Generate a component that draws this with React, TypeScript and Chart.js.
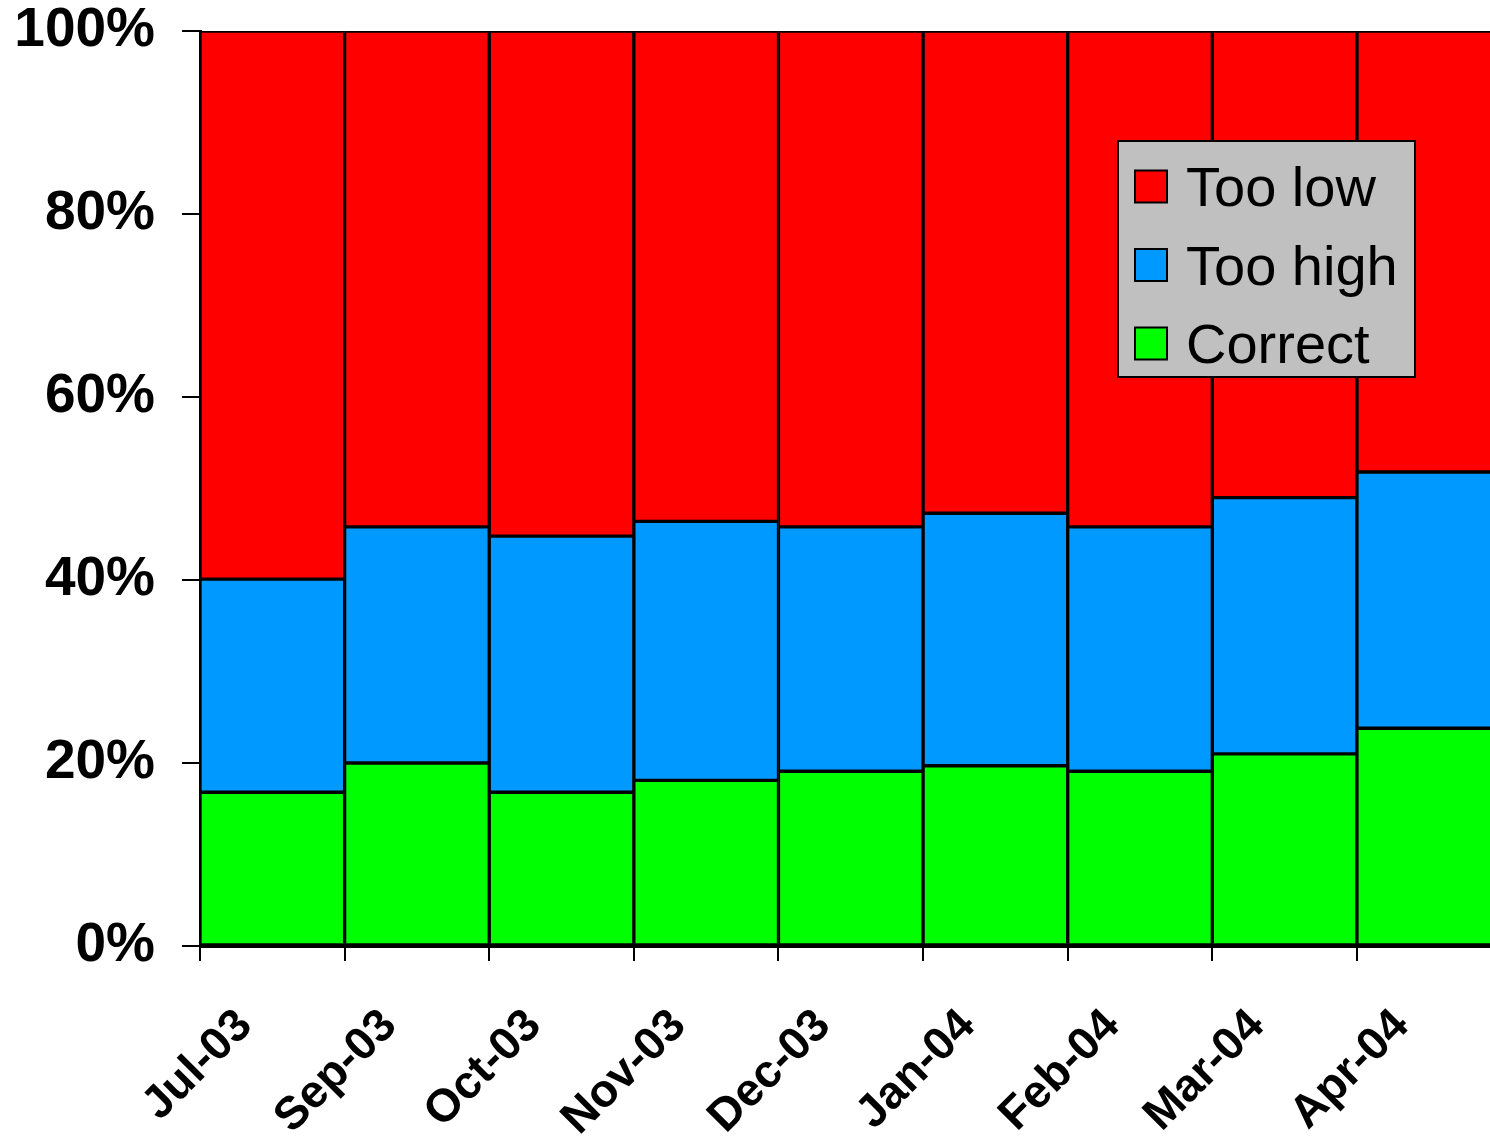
import React, { useEffect, useRef } from "react";
import { Chart, registerables } from "chart.js";

Chart.register(...registerables);

const categories = ["Jul-03", "Sep-03", "Oct-03", "Nov-03", "Dec-03", "Jan-04", "Feb-04", "Mar-04", "Apr-04"];
const correct = [16.8, 20.0, 16.8, 18.1, 19.1, 19.7, 19.1, 21.0, 23.8];
const tooHigh = [23.3, 25.8, 28.0, 28.3, 26.7, 27.6, 26.7, 28.0, 28.0];
const tooLow = correct.map((c, i) => +(100 - c - tooHigh[i]).toFixed(1));
const yTicks = [0, 20, 40, 60, 80, 100];
const seriesNames = ["Correct", "Too high", "Too low"];
const seriesColors = ["#00ff00", "#0099ff", "#ff0000"];

const FONT = "'Liberation Sans', Arial, sans-serif";

const boxLegend = {
  id: "boxLegend",
  afterDraw(chart: any) {
    const ctx = chart.ctx as CanvasRenderingContext2D;
    const bx = 1118, by = 141, bw = 297, bh = 236;
    ctx.save();
    ctx.fillStyle = "#c0c0c0";
    ctx.fillRect(bx, by, bw, bh);
    ctx.lineWidth = 2;
    ctx.strokeStyle = "#000";
    ctx.strokeRect(bx, by, bw, bh);
    const items = chart.data.datasets.slice().reverse();
    const fs = 56;
    ctx.font = `${fs}px ${FONT}`;
    ctx.textAlign = "left";
    ctx.textBaseline = "alphabetic";
    items.forEach((ds: any, i: number) => {
      const cy = 186.5 + i * 78.5;
      ctx.fillStyle = ds.backgroundColor;
      ctx.fillRect(1135, cy - 16, 32, 32);
      ctx.lineWidth = 2;
      ctx.strokeStyle = "#000";
      ctx.strokeRect(1135, cy - 16, 32, 32);
      ctx.fillStyle = "#000";
      ctx.fillText(ds.label, 1186, cy + fs * 0.355);
    });
    ctx.restore();
  },
};

export default function App() {
  const ref = useRef<HTMLCanvasElement>(null);
  useEffect(() => {
    if (!ref.current) return;
    const series = [correct, tooHigh, tooLow];
    const chart = new Chart(ref.current, {
      type: "bar",
      data: {
        datasets: series.map((arr, s) => ({
          label: seriesNames[s],
          data: arr.map((v, i) => ({ x: i + 0.5, y: v })),
          backgroundColor: seriesColors[s],
          borderColor: "#000",
          borderWidth: 2,
          borderSkipped: false,
          barPercentage: 1,
          categoryPercentage: 1,
        })),
      },
      options: {
        animation: false,
        responsive: false,
        layout: { padding: { top: 31, left: 0, right: 0, bottom: 0 } },
        plugins: { legend: { display: false }, tooltip: { enabled: false } },
        scales: {
          x: {
            type: "linear",
            stacked: true,
            offset: false,
            min: 0,
            max: 8.92,
            afterBuildTicks: (scale: any) => {
              scale.ticks = categories.map((_, i) => ({ value: i }));
            },
            afterFit: (scale: any) => {
              scale.height = 192;
              scale.paddingLeft = 0;
              scale.paddingRight = 0;
            },
            grid: { display: true, offset: false, drawOnChartArea: false, drawTicks: true, tickLength: 15, color: "#000", lineWidth: 2 },
            border: { display: true, color: "#000", width: 3 },
            ticks: {
              autoSkip: false,
              minRotation: 45,
              maxRotation: 45,
              labelOffset: 45,
              padding: 38,
              color: "#000",
              font: { family: FONT, size: 46, weight: "bold" },
              callback: (v: any) => categories[Math.round(v)] ?? "",
            },
          },
          y: {
            stacked: true,
            min: 0,
            max: 100,
            afterBuildTicks: (scale: any) => {
              scale.ticks = yTicks.map((v) => ({ value: v }));
            },
            afterFit: (scale: any) => {
              scale.width = 200;
              scale.paddingTop = 0;
              scale.paddingBottom = 0;
            },
            grid: { display: true, drawOnChartArea: false, drawTicks: true, tickLength: 18, color: "#000", lineWidth: 2 },
            border: { display: true, color: "#000", width: 3 },
            ticks: {
              padding: 27,
              color: "#000",
              font: { family: FONT, size: 55, weight: "bold" },
              callback: (v: any) => `${v}%`,
            },
          },
        },
      },
      plugins: [boxLegend],
    });
    return () => chart.destroy();
  }, []);
  return (
    <div style={{ position: "fixed", left: 0, top: 0, width: 1490, height: 1138, overflow: "hidden", background: "#fff" }}>
      <canvas ref={ref} width={1490} height={1138} style={{ display: "block", width: 1490, height: 1138 }} />
    </div>
  );
}
